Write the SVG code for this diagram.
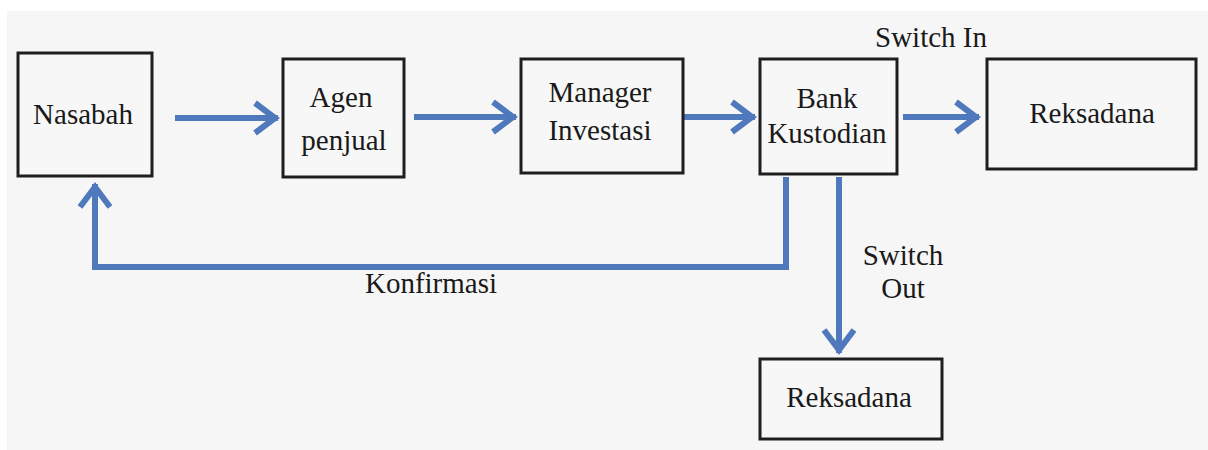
<svg xmlns="http://www.w3.org/2000/svg" width="1208" height="450" viewBox="0 0 1208 450">
<defs>
<style>
.box{fill:#f7f7f7;stroke:#1e1e1e;stroke-width:3}
.t{font-family:"Liberation Serif",serif;font-size:29px;fill:#1a1a1a;text-anchor:middle}
.c{fill:none;stroke:#4f79bc;stroke-width:6}
</style>
<marker id="ah" markerUnits="userSpaceOnUse" markerWidth="40" markerHeight="40" viewBox="-30 -20 40 40" refX="0" refY="0" orient="auto">
<path d="M-23,-15 L-3,0 L-23,15" fill="none" stroke="#4f79bc" stroke-width="6" stroke-linejoin="miter"/>
</marker>
</defs>
<rect x="0" y="0" width="1208" height="450" fill="#ffffff"/>
<rect x="7" y="11" width="1201" height="439" fill="#f6f6f6"/>
<g id="connectors">
<line class="c" x1="175" y1="118" x2="278" y2="118" marker-end="url(#ah)"/>
<line class="c" x1="414" y1="117" x2="516" y2="117" marker-end="url(#ah)"/>
<line class="c" x1="682" y1="117" x2="755" y2="117" marker-end="url(#ah)"/>
<line class="c" x1="903" y1="117" x2="979" y2="117" marker-end="url(#ah)"/>
<polyline class="c" points="786,177 786,267 95,267 95,184" marker-end="url(#ah)"/>
<line class="c" x1="839" y1="177" x2="839" y2="353" marker-end="url(#ah)"/>
<text class="t" x="431" y="293">Konfirmasi</text>
<text class="t" x="931" y="47">Switch In</text>
<text class="t" x="903" y="265">Switch</text>
<text class="t" x="903" y="298">Out</text>
</g>
<g id="nasabah">
<rect class="box" x="18" y="53" width="134" height="123"/>
<text class="t" x="83" y="124">Nasabah</text>
</g>
<g id="agen">
<rect class="box" x="283" y="59" width="121" height="118"/>
<text class="t" x="341" y="107">Agen</text>
<text class="t" x="344" y="150">penjual</text>
</g>
<g id="manager">
<rect class="box" x="521" y="59" width="162" height="114"/>
<text class="t" x="600" y="102">Manager</text>
<text class="t" x="600" y="140">Investasi</text>
</g>
<g id="bank">
<rect class="box" x="760" y="59" width="137" height="115"/>
<text class="t" x="827" y="108">Bank</text>
<text class="t" x="827" y="143">Kustodian</text>
</g>
<g id="reksadana1">
<rect class="box" x="987" y="59" width="209" height="110"/>
<text class="t" x="1092" y="123">Reksadana</text>
</g>
<g id="reksadana2">
<rect class="box" x="760" y="359" width="182" height="80"/>
<text class="t" x="849" y="407">Reksadana</text>
</g>
</svg>
